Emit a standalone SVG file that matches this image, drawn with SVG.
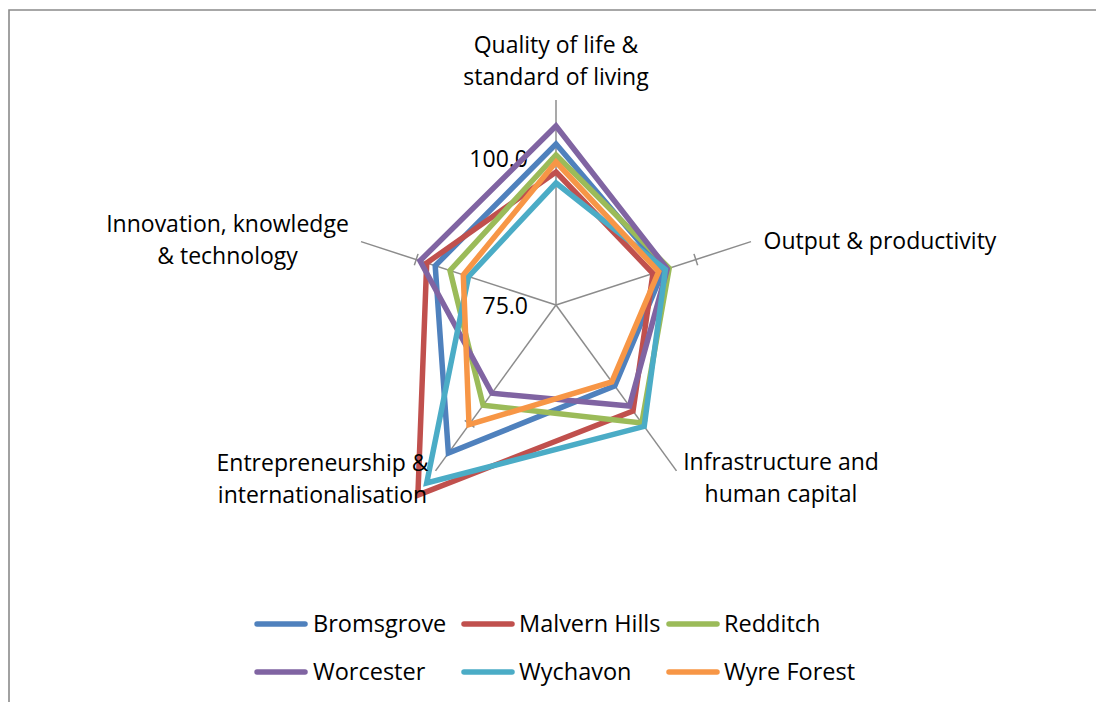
<svg xmlns="http://www.w3.org/2000/svg" width="1096" height="702" viewBox="0 0 1096 702">
<style>
text{font-family:"Open Sans","Noto Sans","Liberation Sans",sans-serif;font-size:23px;fill:#000}
.lab{text-anchor:middle}
.leg{font-size:23.5px}
.axis{stroke:#8c8c8c;stroke-width:1.5;fill:none}
.s{fill:none;stroke-width:5.5;stroke-linejoin:miter}
.ll{stroke-width:5.5;stroke-linecap:round}
.b{stroke:#4F81BD}.r{stroke:#C0504D}.g{stroke:#9BBB59}.p{stroke:#8064A2}.t{stroke:#4BACC6}.o{stroke:#F79646}
</style>
<rect width="1096" height="702" fill="#fff"/>
<path d="M9,702 V10 H1096" fill="none" stroke="#8a8a8a" stroke-width="1.6"/>
<g id="axes">
<g id="ax0" class="axis"><line x1="556" y1="305" x2="556" y2="100"/><line x1="550" y1="158" x2="562" y2="158"/></g>
<g id="ax1" class="axis" transform="rotate(72 556 305)"><line x1="556" y1="305" x2="556" y2="100"/><line x1="550" y1="158" x2="562" y2="158"/></g>
<g id="ax2" class="axis" transform="rotate(144 556 305)"><line x1="556" y1="305" x2="556" y2="100"/><line x1="550" y1="158" x2="562" y2="158"/></g>
<g id="ax3" class="axis" transform="rotate(216 556 305)"><line x1="556" y1="305" x2="556" y2="100"/><line x1="550" y1="158" x2="562" y2="158"/></g>
<g id="ax4" class="axis" transform="rotate(288 556 305)"><line x1="556" y1="305" x2="556" y2="100"/><line x1="550" y1="158" x2="562" y2="158"/></g>
</g>
<g id="scale">
<text x="528" y="167" text-anchor="end">100.0</text>
<text x="528" y="314" text-anchor="end">75.0</text>
</g>
<g id="series">
<polygon id="bromsgrove" class="s b" points="556,144 663.5,270.1 614.8,385.9 448.4,453 435.2,265.8"/>
<polygon id="malvern" class="s r" points="556,172 653,273.5 633,411 417.9,495.1 426.7,263"/>
<polygon id="redditch" class="s g" points="556,155 669.2,268.2 641.8,423.1 483.1,405.3 450,270.5"/>
<polygon id="worcester" class="s p" points="556,126 667.3,268.8 629.5,406.1 491.9,393.2 420,260.8"/>
<polygon id="wychavon" class="s t" points="556,183 665.4,269.5 644.2,426.4 426.7,483 468.5,276.6"/>
<polygon id="wyreforest" class="s o" points="556,162 658.7,271.6 611.8,381.9 469,424.7 463.3,274.9"/>
</g>
<g id="labels">
<g id="lab-quality"><text class="lab" x="556" y="53">Quality of life &amp;</text><text class="lab" x="556" y="85">standard of living</text></g>
<g id="lab-output"><text class="lab" x="880" y="249">Output &amp; productivity</text></g>
<g id="lab-infra"><text class="lab" x="781" y="470">Infrastructure and</text><text class="lab" x="781" y="502">human capital</text></g>
<g id="lab-entre"><text class="lab" x="322.5" y="471">Entrepreneurship &amp;</text><text class="lab" x="322.5" y="503">internationalisation</text></g>
<g id="lab-innov"><text class="lab" x="227.5" y="232">Innovation, knowledge</text><text class="lab" x="227.5" y="264">&amp; technology</text></g>
</g>
<g id="legend">
<g id="leg-b"><line class="ll b" x1="257" y1="624" x2="305" y2="624"/><text class="leg" x="313" y="632">Bromsgrove</text></g>
<g id="leg-r"><line class="ll r" x1="464" y1="624" x2="512" y2="624"/><text class="leg" x="519" y="632">Malvern Hills</text></g>
<g id="leg-g"><line class="ll g" x1="669" y1="624" x2="717" y2="624"/><text class="leg" x="724" y="632">Redditch</text></g>
<g id="leg-p"><line class="ll p" x1="257" y1="672" x2="305" y2="672"/><text class="leg" x="313" y="680">Worcester</text></g>
<g id="leg-t"><line class="ll t" x1="464" y1="672" x2="512" y2="672"/><text class="leg" x="519" y="680">Wychavon</text></g>
<g id="leg-o"><line class="ll o" x1="669" y1="672" x2="717" y2="672"/><text class="leg" x="724" y="680">Wyre Forest</text></g>
</g>
</svg>
